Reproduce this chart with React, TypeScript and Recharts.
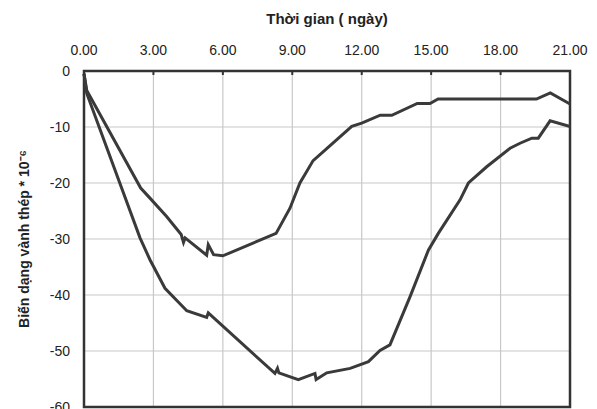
import React from "react";
import {
  LineChart, Line, XAxis, YAxis, CartesianGrid, ReferenceArea,
} from "recharts";

// Thời gian (ngày) / biến dạng, series
const upperDays = [0, 0.12, 2.45, 2.85, 3.57, 4.2, 4.3, 4.37, 5.3, 5.37, 5.6, 6.0, 8.3, 8.9, 9.33, 9.9, 10.5, 11.57, 12.0, 12.8, 13.3, 14.4, 14.95, 15.3, 19.55, 20.15, 21.0];
const upperStrain = [-0.5, -3.5, -20.9, -22.7, -26, -29.2, -30.6, -29.8, -32.9, -31, -32.8, -33, -29, -24.5, -20, -16, -13.8, -9.9, -9.3, -7.9, -7.9, -5.8, -5.8, -5, -5, -3.9, -5.9];

const lowerDays = [0, 0.12, 2.42, 2.85, 3.5, 4.44, 5.3, 5.37, 8.25, 8.36, 8.42, 9.26, 9.98, 10.03, 10.49, 11.5, 12.29, 12.79, 13.22, 14.09, 14.88, 15.31, 16.25, 16.61, 17.4, 18.41, 18.84, 19.35, 19.63, 20.14, 21.0];
const lowerStrain = [-0.5, -4, -29.8, -33.7, -38.8, -42.8, -44, -43.2, -54, -53.1, -53.9, -55.1, -54, -55.1, -53.9, -53.1, -51.9, -49.9, -48.9, -40.3, -32, -29, -23, -20, -17.1, -13.8, -12.9, -12, -12, -8.9, -9.9];

const xTicks = [0, 3, 6, 9, 12, 15, 18, 21];
const yTicks = [-60, -50, -40, -30, -20, -10, 0];

const upperData = upperDays.map((d, i) => ({ day: d, strain: upperStrain[i] }));
const lowerData = lowerDays.map((d, i) => ({ day: d, strain: lowerStrain[i] }));

const FONT = '"Liberation Sans", Arial, sans-serif';
const INK = "#333333";

export default function App() {
  return (
    <div style={{ position: "absolute", left: 0, top: 0, background: "#fff", fontFamily: FONT }}>
      <LineChart width={597} height={409} margin={{ top: 0, right: 27, left: 0, bottom: 2 }}>
        <CartesianGrid stroke="#c8c8c8" strokeWidth={1.2} />
        <XAxis
          xAxisId={0}
          type="number"
          dataKey="day"
          orientation="top"
          domain={[0, 21]}
          ticks={xTicks}
          interval={0}
          tickFormatter={(v: number) => v.toFixed(2)}
          height={71}
          axisLine={false}
          tickSize={-4}
          tickLine={{ stroke: INK, strokeWidth: 2 }}
          tickMargin={20}
          tick={{ fill: "#222", fontSize: 14, fontFamily: FONT }}
          label={{
            content: ({ viewBox }: any) => (
              <text
                x={viewBox.x + viewBox.width / 2}
                y={viewBox.y + 24}
                textAnchor="middle"
                fill="#222"
                fontSize={15}
                fontWeight="bold"
                fontFamily={FONT}
              >
                Thời gian ( ngày)
              </text>
            ),
          }}
        />
        <YAxis
          type="number"
          domain={[-60, 0]}
          ticks={yTicks}
          interval={0}
          width={84}
          axisLine={false}
          tickLine={false}
          tickMargin={8}
          tick={{ fill: "#222", fontSize: 14, fontFamily: FONT }}
          label={{
            content: ({ viewBox }: any) => {
              const cy = viewBox.y + viewBox.height / 2;
              return (
                <text
                  x={29}
                  y={cy}
                  transform={`rotate(-90, 29, ${cy})`}
                  textAnchor="middle"
                  fill="#222"
                  fontSize={14}
                  fontWeight="bold"
                  fontFamily={FONT}
                >
                  Biến dạng vành thép * 10⁻⁶
                </text>
              );
            },
          }}
        />
        <ReferenceArea x1={0} x2={21} y1={-60} y2={0} fill="none" stroke={INK} strokeWidth={2.5} fillOpacity={0} ifOverflow="visible" />
        <Line
          data={upperData}
          dataKey="strain"
          type="linear"
          stroke="#3a3a3a"
          strokeWidth={3}
          dot={false}
          activeDot={false}
          isAnimationActive={false}
        />
        <Line
          data={lowerData}
          dataKey="strain"
          type="linear"
          stroke="#3a3a3a"
          strokeWidth={3}
          dot={false}
          activeDot={false}
          isAnimationActive={false}
        />
      </LineChart>
    </div>
  );
}
